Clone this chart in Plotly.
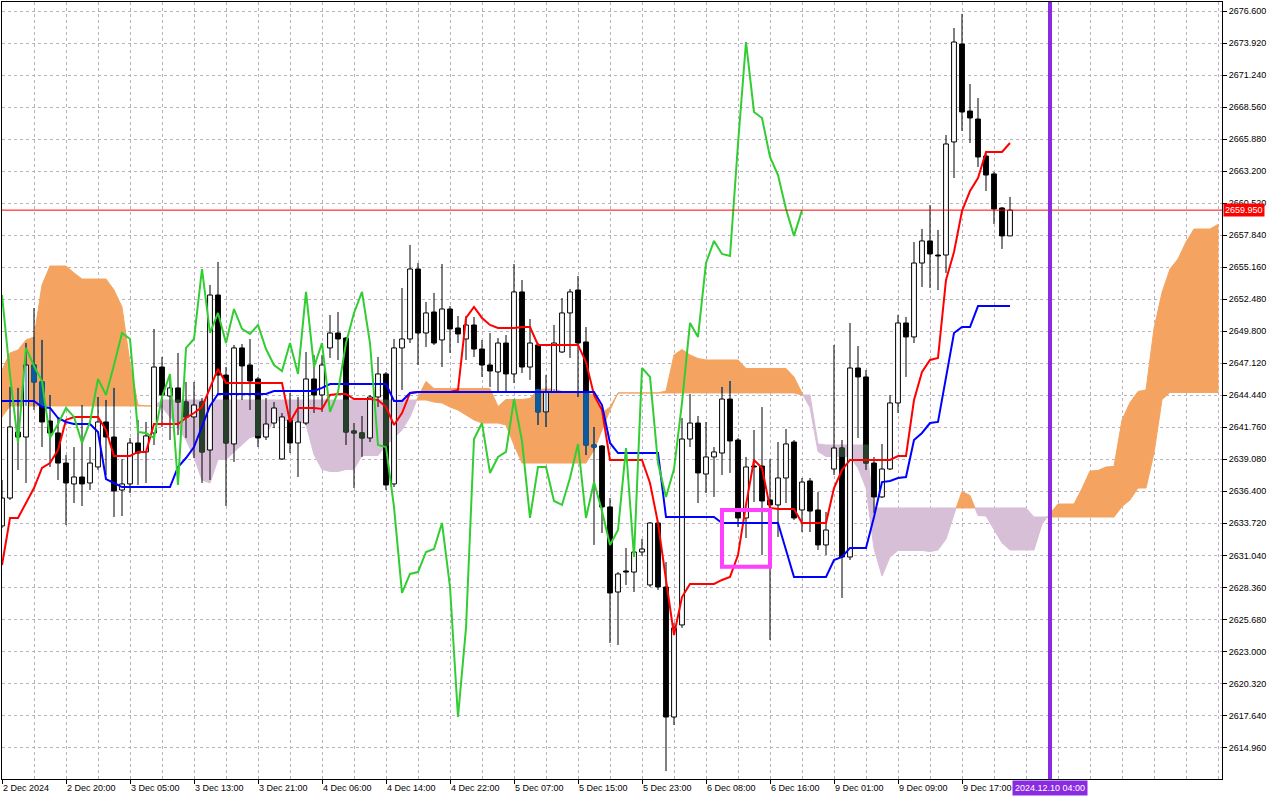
import plotly.graph_objects as go

# ---------------- data (H1 chart) ----------------
open_ = [2633.50, 2635.84, 2641.37, 2640.95, 2646.98, 2645.56, 2642.29, 2641.29, 2638.77, 2637.02,
         2637.60, 2637.10, 2638.44, 2642.21, 2640.95, 2636.51, 2637.02, 2640.45, 2639.70, 2641.29,
         2646.81, 2644.38, 2645.06, 2643.88, 2642.63, 2643.88, 2639.86, 2652.84, 2646.14, 2640.37,
         2648.41, 2646.98, 2645.81, 2640.95, 2642.12, 2639.11, 2642.38, 2640.45, 2642.12, 2645.81,
         2644.47, 2648.41, 2649.66, 2649.24, 2641.45, 2641.29, 2640.87, 2644.30, 2646.23, 2637.02,
         2648.41, 2649.16, 2655.02, 2649.66, 2651.42, 2649.08, 2651.67, 2650.08, 2649.16, 2650.33,
         2648.32, 2646.98, 2646.40, 2648.82, 2646.23, 2653.10, 2646.81, 2648.66, 2643.05, 2644.72,
         2648.07, 2651.34, 2653.26, 2648.91, 2640.28, 2640.20, 2635.09, 2627.97, 2629.73, 2629.64,
         2631.32, 2628.56, 2633.75, 2628.39, 2617.50, 2625.21, 2640.78, 2642.12, 2637.85, 2639.28,
         2639.61, 2644.13, 2640.70, 2634.17, 2638.52, 2638.52, 2635.68, 2635.26, 2637.52, 2640.53,
         2634.84, 2637.27, 2634.84, 2631.91, 2638.27, 2640.03, 2630.90, 2646.73, 2645.98, 2638.77,
         2635.93, 2638.27, 2643.80, 2650.50, 2649.33, 2655.52, 2657.37, 2656.19, 2656.19, 2665.66,
         2673.86, 2668.25, 2667.58, 2664.48, 2662.98, 2660.13, 2657.79]

high = [2637.35, 2645.14, 2645.06, 2648.82, 2651.75, 2649.08, 2644.47, 2642.54, 2639.44, 2640.11,
        2643.63, 2640.11, 2644.30, 2644.05, 2645.06, 2639.11, 2640.87, 2642.38, 2642.21, 2650.00,
        2647.65, 2646.14, 2647.99, 2645.56, 2645.56, 2644.22, 2653.68, 2655.61, 2646.81, 2648.66,
        2648.74, 2649.16, 2645.98, 2644.22, 2643.88, 2642.96, 2644.64, 2644.30, 2648.07, 2647.82,
        2647.82, 2651.17, 2651.42, 2649.33, 2642.12, 2642.71, 2644.47, 2647.65, 2646.40, 2649.16,
        2653.43, 2657.03, 2655.52, 2652.26, 2653.01, 2655.44, 2651.92, 2651.08, 2651.08, 2651.00,
        2649.08, 2649.66, 2649.24, 2649.49, 2655.44, 2654.10, 2650.83, 2648.82, 2646.14, 2650.33,
        2652.59, 2653.35, 2654.44, 2650.16, 2641.79, 2640.28, 2635.84, 2629.64, 2631.66, 2632.33,
        2632.41, 2633.83, 2633.83, 2630.48, 2625.38, 2642.54, 2644.55, 2642.71, 2642.21, 2640.11,
        2645.14, 2645.64, 2640.87, 2639.28, 2641.54, 2643.46, 2639.11, 2640.53, 2641.62, 2640.70,
        2637.52, 2637.52, 2636.34, 2634.67, 2648.66, 2640.70, 2650.50, 2648.57, 2646.56, 2639.28,
        2640.37, 2644.47, 2651.17, 2651.00, 2657.28, 2658.37, 2660.38, 2658.29, 2666.24, 2675.20,
        2676.38, 2670.51, 2669.34, 2664.82, 2663.15, 2660.21, 2661.05]

low = [2633.33, 2635.68, 2638.19, 2637.10, 2643.21, 2640.11, 2638.44, 2637.35, 2633.58, 2635.42,
       2635.17, 2636.51, 2638.19, 2637.77, 2634.25, 2634.33, 2636.26, 2636.93, 2637.10, 2640.28,
       2641.79, 2640.70, 2641.12, 2640.87, 2639.19, 2637.10, 2637.35, 2644.47, 2635.17, 2638.86,
       2644.05, 2643.21, 2640.11, 2640.70, 2641.70, 2639.03, 2639.61, 2637.60, 2641.96, 2642.96,
       2643.05, 2647.57, 2647.40, 2640.28, 2636.68, 2639.28, 2640.53, 2643.46, 2636.51, 2636.76,
       2644.89, 2648.82, 2646.98, 2648.49, 2648.66, 2646.81, 2647.99, 2648.82, 2647.40, 2647.65,
       2645.98, 2645.14, 2644.72, 2644.72, 2645.47, 2646.31, 2645.73, 2641.96, 2641.79, 2644.64,
       2647.99, 2647.57, 2644.30, 2639.44, 2631.91, 2632.91, 2623.70, 2623.53, 2628.56, 2627.97,
       2630.99, 2628.39, 2628.14, 2612.98, 2616.83, 2624.96, 2640.11, 2635.42, 2636.26, 2635.93,
       2637.77, 2637.94, 2633.41, 2632.49, 2635.51, 2631.07, 2623.95, 2632.58, 2635.42, 2634.00,
       2632.99, 2632.99, 2631.49, 2631.07, 2637.77, 2627.47, 2630.65, 2640.87, 2638.19, 2634.59,
       2635.84, 2638.19, 2642.96, 2645.98, 2648.82, 2653.51, 2653.43, 2653.26, 2654.69, 2662.64,
       2666.58, 2665.57, 2663.56, 2661.55, 2658.79, 2656.70, 2657.79]

close_ = [2635.84, 2641.79, 2640.95, 2646.98, 2645.56, 2642.21, 2641.29, 2638.77, 2637.10, 2637.60,
          2637.02, 2638.77, 2642.21, 2640.95, 2636.43, 2637.02, 2640.45, 2639.61, 2641.04, 2646.81,
          2644.47, 2645.06, 2643.88, 2642.63, 2643.63, 2639.70, 2652.84, 2646.14, 2640.45, 2648.41,
          2646.90, 2645.64, 2640.87, 2642.04, 2643.38, 2642.63, 2640.45, 2642.21, 2645.81, 2644.47,
          2646.98, 2649.66, 2649.16, 2641.37, 2641.29, 2640.87, 2644.30, 2646.23, 2636.93, 2648.41,
          2649.16, 2655.02, 2649.66, 2651.34, 2648.82, 2651.67, 2650.00, 2649.58, 2650.33, 2648.32,
          2646.98, 2646.48, 2648.82, 2646.23, 2653.10, 2646.81, 2648.82, 2643.05, 2644.72, 2648.82,
          2651.34, 2653.10, 2648.82, 2640.28, 2640.11, 2635.09, 2627.89, 2629.48, 2629.64, 2631.32,
          2631.57, 2633.75, 2628.39, 2617.50, 2624.96, 2640.78, 2642.12, 2637.94, 2639.28, 2639.70,
          2644.13, 2640.62, 2634.17, 2638.44, 2638.44, 2635.59, 2635.26, 2637.52, 2640.37, 2634.17,
          2637.18, 2634.75, 2631.91, 2633.16, 2640.03, 2630.90, 2646.73, 2645.98, 2638.77, 2635.93,
          2638.27, 2643.80, 2650.50, 2649.33, 2655.52, 2657.37, 2656.28, 2656.11, 2665.49, 2674.03,
          2668.17, 2667.67, 2664.40, 2662.89, 2660.05, 2657.79, 2659.95]

tenkan = [2630.23, 2634.17, 2634.17, 2635.42, 2636.68, 2638.36, 2638.77, 2639.86, 2642.38, 2642.63,
          2642.63, 2642.63, 2642.63, 2641.54, 2639.36, 2639.36, 2639.36, 2639.70, 2639.70, 2642.04,
          2642.04, 2642.04, 2642.04, 2642.54, 2642.96, 2643.46, 2645.06, 2646.65, 2645.47, 2645.47,
          2645.47, 2645.47, 2645.47, 2645.47, 2645.47, 2645.47, 2642.21, 2643.38, 2643.38, 2643.38,
          2643.30, 2644.47, 2644.55, 2644.55, 2644.13, 2644.13, 2644.13, 2644.05, 2643.46, 2641.96,
          2642.96, 2644.64, 2644.72, 2644.72, 2644.72, 2644.72, 2644.72, 2644.89, 2650.92, 2651.84,
          2650.92, 2650.33, 2650.08, 2650.08, 2650.08, 2650.16, 2650.16, 2648.66, 2648.66, 2648.66,
          2648.66, 2648.66, 2648.66, 2647.23, 2644.47, 2643.21, 2639.03, 2639.03, 2639.03, 2639.03,
          2639.03, 2637.10, 2633.75, 2628.98, 2624.37, 2627.55, 2628.64, 2628.64, 2628.64, 2628.64,
          2628.98, 2629.23, 2631.07, 2635.26, 2639.03, 2638.36, 2635.01, 2634.92, 2634.92, 2634.92,
          2633.75, 2633.75, 2633.75, 2633.75, 2636.68, 2638.19, 2639.03, 2639.03, 2639.03, 2639.03,
          2639.03, 2639.03, 2639.36, 2639.36, 2644.05, 2646.40, 2647.40, 2647.57, 2654.10, 2656.44,
          2659.88, 2661.55, 2662.64, 2664.82, 2664.82, 2664.82, 2665.57]

kijun = [2643.97, 2643.97, 2643.97, 2643.97, 2643.97, 2643.46, 2643.38, 2642.54, 2642.21, 2642.04,
         2642.04, 2642.04, 2641.37, 2637.43, 2637.10, 2636.76, 2636.76, 2636.76, 2636.76, 2636.76,
         2636.76, 2636.76, 2638.44, 2639.19, 2640.11, 2641.79, 2643.55, 2644.55, 2644.55, 2644.55,
         2644.55, 2644.55, 2644.55, 2644.55, 2644.80, 2644.80, 2644.80, 2644.80, 2644.80, 2644.80,
         2645.06, 2645.39, 2645.39, 2645.39, 2645.39, 2645.39, 2645.39, 2645.39, 2645.39, 2643.97,
         2643.97, 2644.64, 2644.72, 2644.72, 2644.72, 2644.72, 2644.72, 2644.72, 2644.72, 2644.72,
         2644.72, 2644.72, 2644.72, 2644.72, 2644.72, 2644.72, 2644.72, 2644.72, 2644.72, 2644.72,
         2644.72, 2644.72, 2644.72, 2644.72, 2644.72, 2643.63, 2640.45, 2639.61, 2639.61, 2639.61,
         2639.61, 2639.61, 2639.61, 2634.25, 2634.25, 2634.25, 2634.25, 2634.25, 2634.25, 2634.25,
         2633.75, 2633.75, 2633.75, 2633.75, 2633.75, 2633.75, 2633.75, 2633.75, 2631.49, 2629.23,
         2629.23, 2629.23, 2629.23, 2629.23, 2630.65, 2630.90, 2631.66, 2631.66, 2631.66, 2634.25,
         2637.18, 2637.27, 2637.52, 2637.60, 2640.70, 2641.29, 2642.12, 2642.21, 2645.98, 2649.66,
         2650.16, 2650.16, 2651.92, 2651.92, 2651.92, 2651.92, 2651.92]

# leading spans (already placed 26 bars ahead -> 153 positions)
senkou_a = [2646.56, 2647.99, 2648.24, 2649.08, 2649.33, 2653.68, 2655.27, 2655.27, 2655.27, 2654.69,
            2654.18, 2654.18, 2654.18, 2654.18, 2653.26, 2651.84, 2647.15, 2643.63, 2643.55, 2643.55,
            2643.46, 2642.63, 2641.79, 2640.70, 2639.28, 2637.35, 2637.10, 2639.07, 2639.07, 2639.70,
            2640.32, 2640.91, 2641.08, 2641.20, 2642.29, 2642.33, 2642.33, 2642.33, 2642.00, 2639.48,
            2638.23, 2638.06, 2638.06, 2638.23, 2638.23, 2639.40, 2639.40, 2639.40, 2640.24, 2640.87,
            2641.54, 2642.63, 2644.30, 2645.60, 2645.01, 2645.01, 2645.01, 2645.01, 2645.01, 2645.01,
            2645.01, 2645.01, 2643.51, 2644.09, 2644.09, 2644.09, 2644.18, 2644.93, 2644.97, 2644.97,
            2644.76, 2644.76, 2644.76, 2644.72, 2644.43, 2642.96, 2643.46, 2644.64, 2644.64, 2644.64,
            2644.64, 2644.64, 2644.64, 2644.80, 2647.82, 2648.28, 2647.82, 2647.53, 2647.40, 2647.40,
            2647.40, 2647.40, 2647.40, 2646.69, 2646.69, 2646.69, 2646.69, 2646.69, 2646.69, 2645.98,
            2644.60, 2643.42, 2639.74, 2639.32, 2639.32, 2639.32, 2639.32, 2638.36, 2636.68, 2631.62,
            2629.31, 2630.90, 2631.45, 2631.45, 2631.45, 2631.45, 2631.36, 2631.49, 2632.41, 2634.50,
            2636.39, 2636.05, 2634.38, 2634.33, 2633.20, 2632.08, 2631.49, 2631.49, 2631.49, 2631.49,
            2633.67, 2634.55, 2635.34, 2635.34, 2635.34, 2636.64, 2638.10, 2638.15, 2638.44, 2638.48,
            2642.38, 2643.84, 2644.76, 2644.89, 2650.04, 2653.05, 2655.02, 2655.86, 2657.28, 2658.37,
            2658.37, 2658.37, 2658.75]

senkou_b = [2642.63, 2643.55, 2643.55, 2643.55, 2643.55, 2643.55, 2643.55, 2643.55, 2643.55, 2643.55,
            2643.55, 2643.55, 2643.55, 2643.55, 2643.55, 2643.55, 2643.55, 2643.55, 2643.55, 2643.55,
            2644.05, 2644.05, 2644.05, 2644.05, 2644.05, 2644.05, 2644.05, 2644.05, 2644.05, 2644.05,
            2644.05, 2644.05, 2644.05, 2644.05, 2644.05, 2644.05, 2644.05, 2644.05, 2644.05, 2644.05,
            2644.05, 2644.05, 2644.05, 2644.05, 2644.05, 2644.05, 2644.05, 2644.05, 2644.05, 2644.05,
            2644.05, 2644.05, 2644.05, 2644.05, 2643.88, 2643.80, 2643.46, 2643.21, 2642.79, 2642.38,
            2642.12, 2642.12, 2642.12, 2641.96, 2640.28, 2638.77, 2638.77, 2638.77, 2638.77, 2638.77,
            2638.77, 2638.77, 2638.77, 2638.77, 2639.86, 2641.54, 2643.21, 2644.64, 2644.64, 2644.64,
            2644.64, 2644.64, 2644.64, 2644.64, 2644.64, 2644.64, 2644.64, 2644.64, 2644.64, 2644.64,
            2644.64, 2644.64, 2644.64, 2644.64, 2644.64, 2644.64, 2644.64, 2644.64, 2644.64, 2644.64,
            2644.47, 2644.47, 2640.37, 2640.28, 2640.28, 2640.28, 2640.28, 2640.28, 2640.28, 2635.01,
            2635.01, 2635.01, 2635.01, 2635.01, 2635.01, 2635.01, 2635.01, 2635.01, 2635.01, 2635.01,
            2635.01, 2635.01, 2635.01, 2635.01, 2635.01, 2635.01, 2635.01, 2635.01, 2635.01, 2634.25,
            2634.25, 2634.25, 2634.25, 2634.25, 2634.25, 2634.25, 2634.25, 2634.25, 2634.25, 2634.25,
            2635.13, 2635.68, 2636.68, 2636.68, 2639.61, 2644.09, 2644.68, 2644.68, 2644.68, 2644.68,
            2644.68, 2644.68, 2644.68]

time_labels = ["2 Dec 2024", "2 Dec 20:00", "3 Dec 05:00", "3 Dec 13:00", "3 Dec 21:00",
               "4 Dec 06:00", "4 Dec 14:00", "4 Dec 22:00", "5 Dec 07:00", "5 Dec 15:00",
               "5 Dec 23:00", "6 Dec 08:00", "6 Dec 16:00", "9 Dec 01:00", "9 Dec 09:00",
               "9 Dec 17:00"]
label_bars = [0, 8, 16, 24, 32, 40, 48, 56, 64, 72, 80, 88, 96, 104, 112, 120]

price_ticks = [2614.96, 2617.64, 2620.32, 2623.00, 2625.68, 2628.36, 2631.04, 2633.72,
               2636.40, 2639.08, 2641.76, 2644.44, 2647.12, 2649.80, 2652.48, 2655.16,
               2657.84, 2660.52, 2663.20, 2665.88, 2668.56, 2671.24, 2673.92, 2676.60]

current_price = 2659.95
vline_bar = 131
vline_label = "2024.12.10 04:00"
box_start_bar, box_end_bar = 90, 96
box_low, box_high = 2630.08, 2634.84
chikou_shift = 26

# ---------------- figure ----------------
ORANGE = "#F4A460"
THISTLE = "#D8BFD8"
ON_ORANGE = "#0B5B9F"    # black drawn over sandy-brown cloud (MT5 inverted mix)
ON_THISTLE = "#27402A"   # black drawn over thistle cloud
GRID = "#B9B1BD"

n = len(close_)
bars = list(range(n))
lagging = close_[chikou_shift:]


def cloud_polys(a, b, want_a_above):
    xs, ys = [], []
    up, lo = [], []

    def cond(d):
        return d >= 0 if want_a_above else d < 0

    def flush():
        if up:
            pts = up + lo[::-1]
            pts.append(pts[0])
            xs.extend([p[0] for p in pts] + [None])
            ys.extend([p[1] for p in pts] + [None])
        up.clear()
        lo.clear()

    m = len(a)
    for i in range(m):
        di = a[i] - b[i]
        if cond(di):
            up.append((i, a[i]))
            lo.append((i, b[i]))
        if i < m - 1:
            dj = a[i + 1] - b[i + 1]
            if cond(di) != cond(dj) and di != dj:
                t = di / (di - dj)
                xc = i + t
                yc = a[i] + (a[i + 1] - a[i]) * t
                up.append((xc, yc))
                lo.append((xc, yc))
                if cond(di):
                    flush()
    flush()
    return xs, ys


fig = go.Figure()

ox, oy = cloud_polys(senkou_a, senkou_b, True)
fig.add_trace(go.Scatter(x=ox, y=oy, mode="lines", fill="toself", fillcolor=ORANGE,
                         line=dict(color=ORANGE, width=1), hoverinfo="skip"))
tx, ty = cloud_polys(senkou_a, senkou_b, False)
fig.add_trace(go.Scatter(x=tx, y=ty, mode="lines", fill="toself", fillcolor=THISTLE,
                         line=dict(color=THISTLE, width=1), hoverinfo="skip"))

# wicks
wx, wy = [], []
for i in bars:
    wx += [i, i, None]
    wy += [low[i], high[i], None]
fig.add_trace(go.Scatter(x=wx, y=wy, mode="lines", line=dict(color="black", width=1),
                         hoverinfo="skip"))

# bodies
half = 0.3


def rect(xs, ys, i, lo_, hi_):
    xs += [i - half, i + half, i + half, i - half, i - half, None]
    ys += [lo_, lo_, hi_, hi_, lo_, None]


def bodies(up_candles):
    xs, ys = [], []
    for i in bars:
        o, c = open_[i], close_[i]
        if (c >= o) != up_candles:
            continue
        rect(xs, ys, i, min(o, c), max(o, c))
    return xs, ys


bx, by = bodies(False)
fig.add_trace(go.Scatter(x=bx, y=by, mode="lines", fill="toself", fillcolor="black",
                         line=dict(color="black", width=1), hoverinfo="skip"))
ux, uy = bodies(True)
fig.add_trace(go.Scatter(x=ux, y=uy, mode="lines", fill="toself", fillcolor="white",
                         line=dict(color="black", width=1), hoverinfo="skip"))

# parts of candles lying inside the cloud take the mixed colour, as in MT5
ow_x, ow_y, ob_x, ob_y, tb_x, tb_y = [], [], [], [], [], []
for i in bars:
    a, b = senkou_a[i], senkou_b[i]
    c_lo, c_hi = min(a, b), max(a, b)
    o, c = open_[i], close_[i]
    if a >= b:
        w_lo, w_hi = max(low[i], c_lo), min(high[i], c_hi)
        if w_hi > w_lo:
            ow_x += [i, i, None]
            ow_y += [w_lo, w_hi, None]
    if c < o:
        b_lo, b_hi = max(c, c_lo), min(o, c_hi)
        if b_hi > b_lo:
            if a >= b:
                rect(ob_x, ob_y, i, b_lo, b_hi)
            else:
                rect(tb_x, tb_y, i, b_lo, b_hi)
fig.add_trace(go.Scatter(x=ow_x, y=ow_y, mode="lines", line=dict(color=ON_ORANGE, width=1),
                         hoverinfo="skip"))
fig.add_trace(go.Scatter(x=ob_x, y=ob_y, mode="lines", fill="toself", fillcolor=ON_ORANGE,
                         line=dict(color=ON_ORANGE, width=1), hoverinfo="skip"))
fig.add_trace(go.Scatter(x=tb_x, y=tb_y, mode="lines", fill="toself", fillcolor=ON_THISTLE,
                         line=dict(color=ON_THISTLE, width=1), hoverinfo="skip"))

# Ichimoku lines
fig.add_trace(go.Scatter(x=bars, y=tenkan, mode="lines", line=dict(color="#FF0000", width=2)))
fig.add_trace(go.Scatter(x=bars, y=kijun, mode="lines", line=dict(color="#0000FF", width=2)))
fig.add_trace(go.Scatter(x=list(range(len(lagging))), y=lagging, mode="lines",
                         line=dict(color="#32CD32", width=2)))

fig.add_shape(type="line", xref="paper", x0=0, x1=1, yref="y", y0=current_price, y1=current_price,
              line=dict(color="#FF0000", width=1))
fig.add_shape(type="line", xref="x", x0=vline_bar, x1=vline_bar, yref="paper", y0=0, y1=1,
              line=dict(color="#8A2BE2", width=4))
fig.add_shape(type="rect", xref="x", x0=box_start_bar, x1=box_end_bar, yref="y",
              y0=box_low, y1=box_high, line=dict(color="#FF40FF", width=4),
              fillcolor="rgba(0,0,0,0)")

fig.add_annotation(xref="paper", x=1, xanchor="left", xshift=1, yref="y", y=current_price,
                   text=f"{current_price:.3f}", showarrow=False, bgcolor="#FF0000",
                   font=dict(color="white", size=9, family="Liberation Sans"), borderpad=1)
fig.add_annotation(xref="x", x=vline_bar, yref="paper", y=0, yanchor="top", yshift=-1,
                   text=vline_label, showarrow=False, bgcolor="#8A2BE2",
                   font=dict(color="white", size=9, family="Liberation Sans"), borderpad=2)

fig.update_layout(
    width=1280, height=800,
    margin=dict(l=2, r=58, t=2, b=21, pad=0),
    paper_bgcolor="white", plot_bgcolor="white",
    showlegend=False, hovermode=False,
    font=dict(family="Liberation Sans, Arial, sans-serif", size=9, color="black"),
    xaxis=dict(range=[0, 152.5], tickmode="array", tickvals=label_bars, ticktext=time_labels,
               ticks="outside", ticklen=4, tickcolor="black", tickwidth=1,
               ticklabelposition="outside right", showgrid=False,
               minor=dict(tickmode="array", tickvals=list(range(0, 153, 4)), showgrid=True,
                          gridcolor=GRID, griddash="3px,3px", gridwidth=1, ticks=""),
               showline=True, mirror=True, linecolor="black", linewidth=1, zeroline=False,
               tickfont=dict(size=9)),
    yaxis=dict(side="right", range=[2612.31, 2677.38], tickmode="array", tickvals=price_ticks,
               ticktext=[f"{v:.3f}" for v in price_ticks], ticks="outside", ticklen=4,
               tickcolor="black", showgrid=True, gridcolor=GRID, griddash="3px,3px",
               showline=True, mirror=True, linecolor="black", linewidth=1, zeroline=False,
               tickfont=dict(size=9)),
)

fig.write_html("out.html", config={"displayModeBar": False},
               post_script="document.body.style.margin='0';document.body.style.overflow='hidden';")
